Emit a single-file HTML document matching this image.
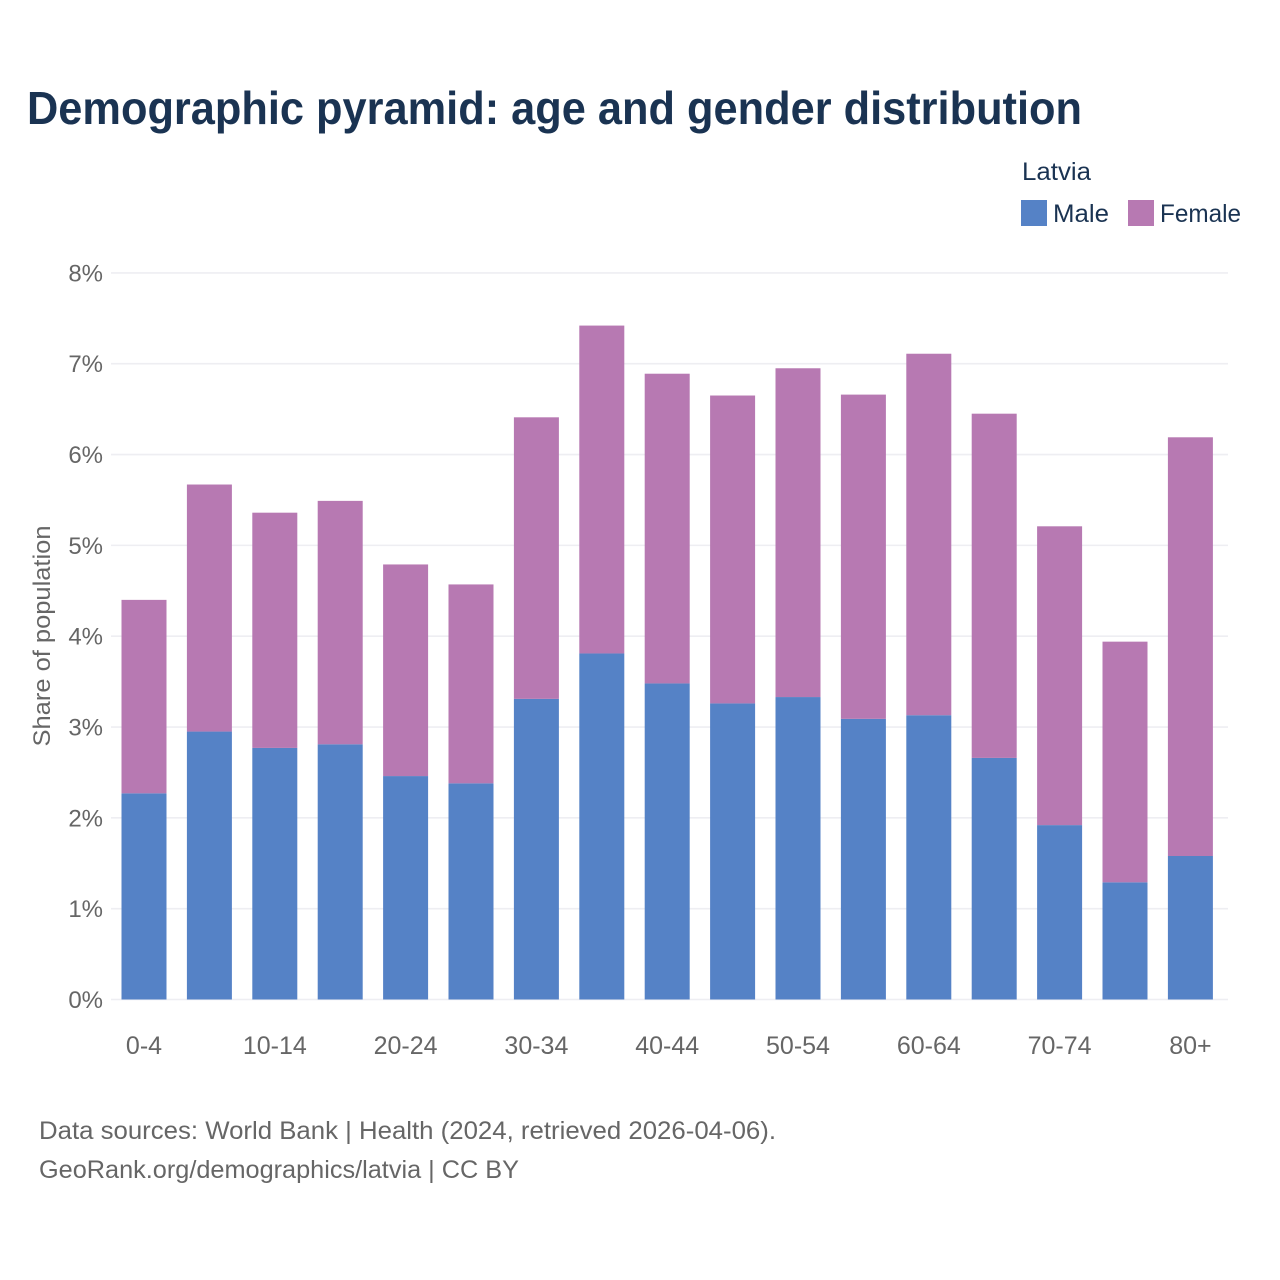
<!DOCTYPE html>
<html lang="en">
<head>
<meta charset="utf-8">
<title>Demographic pyramid: age and gender distribution</title>
<style>
html,body{margin:0;padding:0;background:#fff;}
svg{display:block;font-family:"Liberation Sans",sans-serif;}
</style>
</head>
<body>
<svg id="chart" xmlns="http://www.w3.org/2000/svg" width="1280" height="1280" viewBox="0 0 1280 1280">
<rect x="0" y="0" width="1280" height="1280" fill="#ffffff"/>
<text x="27" y="124" font-size="46" font-weight="700" fill="#1a3352" textLength="1055" lengthAdjust="spacingAndGlyphs">Demographic pyramid: age and gender distribution</text>
<text x="1022" y="180" font-size="25" fill="#1a3352" textLength="69" lengthAdjust="spacingAndGlyphs">Latvia</text>
<rect x="1021" y="200" width="26" height="26" fill="#5582c6"/>
<text x="1053" y="222" font-size="25" fill="#1a3352" textLength="56" lengthAdjust="spacingAndGlyphs">Male</text>
<rect x="1128" y="200" width="26" height="26" fill="#b779b2"/>
<text x="1160" y="222" font-size="25" fill="#1a3352" textLength="81" lengthAdjust="spacingAndGlyphs">Female</text>
<g id="grid"></g>
<g id="yLabels"></g>
<g id="bars"></g>
<g id="xLabels"></g>
<text transform="translate(50,636) rotate(-90)" text-anchor="middle" font-size="24" fill="#666666" textLength="221" lengthAdjust="spacingAndGlyphs">Share of population</text>
<text x="39" y="1139" font-size="25" fill="#666666" textLength="737" lengthAdjust="spacingAndGlyphs">Data sources: World Bank | Health (2024, retrieved 2026-04-06).</text>
<text x="39" y="1178" font-size="25" fill="#666666" textLength="480" lengthAdjust="spacingAndGlyphs">GeoRank.org/demographics/latvia | CC BY</text>
</svg>
<script>
const categories = ["0-4","5-9","10-14","15-19","20-24","25-29","30-34","35-39","40-44","45-49","50-54","55-59","60-64","65-69","70-74","75-79","80+"];
const tickLabels = ["0-4","10-14","20-24","30-34","40-44","50-54","60-64","70-74","80+"];
const maleValues = [2.27,2.95,2.77,2.81,2.46,2.38,3.31,3.81,3.48,3.26,3.33,3.09,3.13,2.66,1.92,1.29,1.58];
const femaleValues = [2.13,2.72,2.59,2.68,2.33,2.19,3.10,3.61,3.41,3.39,3.62,3.57,3.98,3.79,3.29,2.65,4.61];
const yTicks = [0,1,2,3,4,5,6,7,8];

const NS = "http://www.w3.org/2000/svg";
const plotLeft = 111, plotRight = 1228, step = 65.4, firstCenter = 144, barWidth = 45;
const y0 = 999.5, yTop = 272.9, yMax = 8;
function yScale(v){ return y0 - (v / yMax) * (y0 - yTop); }
function xScale(i){ return firstCenter + i * step; }
function make(tag, attrs){
  const el = document.createElementNS(NS, tag);
  for (const k in attrs) el.setAttribute(k, attrs[k]);
  return el;
}
const grid = document.getElementById("grid");
const yLabels = document.getElementById("yLabels");
yTicks.forEach(function(t){
  const line = make("line", {x1: plotLeft, x2: plotRight, y1: yScale(t), y2: yScale(t), stroke: "#eeeef2", "stroke-width": 1.6});
  
  
  grid.appendChild(line);
  const label = make("text", {x: 103, y: yScale(t) + 8.5, "text-anchor": "end", "font-size": 24, fill: "#666666"});
  
  
  label.textContent = t + "%";
  yLabels.appendChild(label);
});
const bars = document.getElementById("bars");
categories.forEach(function(c, i){
  const x = xScale(i) - barWidth / 2;
  const m = maleValues[i], f = femaleValues[i];
  const male = make("rect", {x: x, y: yScale(m), width: barWidth, height: yScale(0) - yScale(m), fill: "#5582c6"});
  
  
  const female = make("rect", {x: x, y: yScale(m + f), width: barWidth, height: yScale(m) - yScale(m + f), fill: "#b779b2"});
  
  
  bars.appendChild(male);
  bars.appendChild(female);
});
const xLabels = document.getElementById("xLabels");
tickLabels.forEach(function(t){
  const label = make("text", {x: xScale(categories.indexOf(t)), y: 1054, "text-anchor": "middle", "font-size": 25, fill: "#666666"});
  
  
  label.textContent = t;
  xLabels.appendChild(label);
});
</script>
</body>
</html>
